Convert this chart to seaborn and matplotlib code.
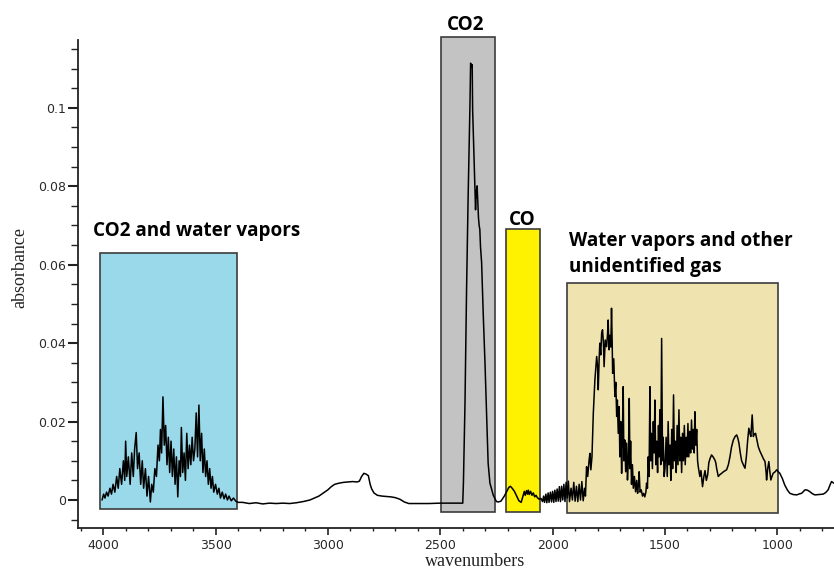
import numpy as np
import pandas as pd
import matplotlib
matplotlib.use("Agg")
import matplotlib.pyplot as plt
import seaborn as sns
from matplotlib.patches import Rectangle
from matplotlib.ticker import MultipleLocator, FuncFormatter

# ---------------- data (wavenumber cm-1, absorbance) ----------------
seg_co2_water = [
    (4005, 0.000), (3998, 0.0015), (3992, 0.0005), (3985, 0.002), (3978, 0.001), (3970, 0.003),
    (3963, 0.0015), (3956, 0.004), (3948, 0.002), (3940, 0.006), (3933, 0.003), (3926, 0.008),
    (3918, 0.004), (3910, 0.010), (3904, 0.005), (3900, 0.0150), (3895, 0.006), (3888, 0.011),
    (3880, 0.004), (3873, 0.012), (3866, 0.006), (3860, 0.013), (3853, 0.0172), (3847, 0.008),
    (3840, 0.012), (3833, 0.004), (3826, 0.010), (3820, 0.003), (3812, 0.008), (3805, 0.001),
    (3798, 0.006), (3790, -0.0005), (3784, 0.004), (3777, 0.002), (3770, 0.008), (3763, 0.006),
    (3756, 0.014), (3750, 0.010), (3745, 0.018), (3740, 0.012), (3734, 0.0263), (3728, 0.014),
    (3722, 0.019), (3716, 0.009), (3710, 0.016), (3704, 0.007), (3698, 0.015), (3692, 0.006),
    (3686, 0.013), (3680, 0.004), (3674, 0.011), (3668, 0.0008), (3662, 0.010), (3656, 0.006),
    (3652, 0.0185), (3646, 0.007), (3640, 0.012), (3634, 0.005), (3628, 0.017), (3622, 0.008),
    (3616, 0.014), (3610, 0.009), (3604, 0.016), (3598, 0.010), (3592, 0.013), (3586, 0.0222),
    (3580, 0.011), (3574, 0.0242), (3568, 0.010), (3562, 0.017), (3556, 0.007), (3550, 0.013),
    (3544, 0.006), (3538, 0.010), (3532, 0.004), (3526, 0.008), (3520, 0.003), (3514, 0.006),
    (3508, 0.002), (3500, 0.004), (3492, 0.0015), (3485, 0.003), (3478, 0.0005), (3470, 0.002),
    (3462, 0.0003), (3455, 0.0015), (3447, 0.000), (3440, 0.001), (3430, -0.0002), (3420, 0.0005),
    (3410, -0.0003), (3400, -0.0006),
]
seg_baseline = [
    (3380, -0.0006), (3350, -0.0009), (3320, -0.0007), (3290, -0.0010), (3260, -0.0008),
    (3230, -0.0009), (3200, -0.0008), (3170, -0.0009), (3140, -0.0007), (3110, -0.0004),
    (3080, 0.0000), (3060, 0.0005), (3040, 0.0010), (3020, 0.0018), (3000, 0.0026),
    (2985, 0.0034), (2970, 0.0040), (2950, 0.0043), (2930, 0.0045), (2910, 0.0046),
    (2890, 0.0047), (2870, 0.0046), (2860, 0.0048), (2850, 0.0060), (2840, 0.0068),
    (2830, 0.0066), (2820, 0.0062), (2812, 0.0040), (2805, 0.0028), (2795, 0.0018),
    (2780, 0.0012), (2760, 0.0010), (2740, 0.0009), (2720, 0.0008), (2700, 0.0006),
    (2680, 0.0002), (2660, -0.0005), (2640, -0.0009), (2600, -0.0009), (2550, -0.0009),
    (2500, -0.0008), (2450, -0.0008),
]
seg_co2 = [
    (2400, -0.0008), (2397, 0.0043), (2390, 0.0247), (2383, 0.0536), (2376, 0.0774),
    (2368, 0.1003), (2365, 0.1114), (2361, 0.1105), (2358, 0.1110), (2356, 0.0995),
    (2350, 0.0876), (2346, 0.0801), (2343, 0.0740), (2340, 0.0790), (2338, 0.0770),
    (2336, 0.0801), (2333, 0.0760), (2330, 0.0720), (2327, 0.0700), (2324, 0.0690),
    (2321, 0.0646), (2316, 0.0605), (2309, 0.0477), (2301, 0.0349), (2294, 0.0222),
    (2287, 0.0094), (2279, 0.0043), (2264, 0.0012),
]
seg_co = [
    (2250, -0.0004), (2242, -0.0005), (2230, -0.0003), (2215, 0.0010), (2205, 0.0021),
    (2195, 0.0032), (2188, 0.0035), (2180, 0.0030), (2170, 0.0022), (2160, 0.0010),
    (2150, -0.0002), (2140, -0.0006), (2132, 0.0010), (2126, 0.0022), (2122, 0.0012),
    (2116, 0.0024), (2112, 0.0015), (2108, 0.0025), (2104, 0.0014), (2098, 0.0022),
    (2092, 0.0012), (2086, 0.0018), (2080, 0.0008), (2074, 0.0012), (2068, 0.0006),
    (2060, 0.0002), (2052, 0.0004),
]
seg_gap = [
    (2045, -0.0004), (2040, 0.0010), (2036, -0.0006), (2030, 0.0015), (2026, -0.0007),
    (2020, 0.0018), (2016, -0.0006), (2010, 0.0020), (2005, -0.0005), (2000, 0.0022),
    (1995, -0.0006), (1990, 0.0025), (1985, -0.0004), (1980, 0.0028), (1975, -0.0003),
    (1970, 0.0034), (1965, -0.0004), (1960, 0.0035), (1955, 0.0000), (1950, 0.0040),
    (1945, -0.0004), (1940, 0.0045),
]
seg_water_other = [
    (1935, 0.0005), (1930, 0.0048), (1925, -0.0004), (1918, 0.0030), (1912, 0.0000),
    (1906, 0.0045), (1900, -0.0003), (1894, 0.0035), (1888, -0.0004), (1882, 0.0040),
    (1876, 0.0000), (1870, 0.0047), (1864, -0.0002), (1858, 0.0030), (1854, 0.0010),
    (1849, 0.0085), (1844, 0.0060), (1838, 0.0100), (1834, 0.0119), (1830, 0.0077),
    (1825, 0.0110), (1819, 0.0221), (1812, 0.0306), (1804, 0.0366), (1800, 0.0340),
    (1797, 0.0281), (1793, 0.0360), (1790, 0.0400), (1786, 0.0370), (1782, 0.0425),
    (1778, 0.0434), (1774, 0.0400), (1771, 0.0340), (1766, 0.0408), (1760, 0.0391),
    (1756, 0.0420), (1753, 0.0459), (1749, 0.0383), (1745, 0.0420), (1741, 0.0390),
    (1738, 0.0489), (1735, 0.0400), (1733, 0.0323), (1728, 0.0360), (1723, 0.0264),
    (1719, 0.0300), (1715, 0.0213), (1712, 0.0255), (1708, 0.0170), (1704, 0.0238),
    (1701, 0.0110), (1697, 0.0200), (1693, 0.0068), (1690, 0.0150), (1686, 0.0289),
    (1683, 0.0100), (1679, 0.0153), (1675, 0.0072), (1671, 0.0145), (1667, 0.0051),
    (1663, 0.0100), (1659, 0.0259), (1656, 0.0080), (1653, 0.0150), (1649, 0.0040),
    (1645, 0.0090), (1641, 0.0030), (1636, 0.0060), (1631, 0.0021), (1626, 0.0050),
    (1622, 0.0017), (1618, 0.0040), (1615, 0.0072), (1611, 0.0020), (1606, 0.0026),
    (1600, 0.0010), (1595, 0.0017), (1590, 0.0008), (1585, 0.0020), (1582, 0.0043),
    (1578, 0.0030), (1575, 0.0110), (1571, 0.0060), (1567, 0.0289), (1564, 0.0100),
    (1560, 0.0170), (1556, 0.0080), (1552, 0.0200), (1548, 0.0120), (1545, 0.0255),
    (1541, 0.0090), (1537, 0.0150), (1533, 0.0070), (1529, 0.0190), (1526, 0.0110),
    (1523, 0.0230), (1519, 0.0090), (1515, 0.0412), (1511, 0.0100), (1508, 0.0160),
    (1504, 0.0060), (1500, 0.0080), (1495, 0.0160), (1490, 0.0060), (1486, 0.0200),
    (1482, 0.0090), (1478, 0.0140), (1474, 0.0050), (1470, 0.0180), (1466, 0.0080),
    (1462, 0.0268), (1458, 0.0100), (1454, 0.0150), (1450, 0.0070), (1446, 0.0190),
    (1442, 0.0090), (1438, 0.0230), (1434, 0.0100), (1430, 0.0160), (1426, 0.0070),
    (1422, 0.0170), (1418, 0.0100), (1414, 0.0190), (1410, 0.0090), (1406, 0.0160),
    (1402, 0.0110), (1398, 0.0195), (1394, 0.0110), (1390, 0.0175), (1386, 0.0120),
    (1382, 0.0204), (1378, 0.0130), (1374, 0.0180), (1370, 0.0120), (1367, 0.0225),
    (1363, 0.0140), (1359, 0.0180), (1355, 0.0100), (1352, 0.0085), (1345, 0.0060),
    (1340, 0.0075), (1333, 0.0034), (1327, 0.0060), (1322, 0.0075), (1316, 0.0050),
    (1310, 0.0065), (1305, 0.0095), (1300, 0.0105), (1293, 0.0115), (1286, 0.0110),
    (1278, 0.0102), (1274, 0.0095), (1270, 0.0080), (1263, 0.0060), (1255, 0.0065),
    (1248, 0.0068), (1240, 0.0072), (1226, 0.0077), (1218, 0.0090), (1211, 0.0110),
    (1204, 0.0135), (1196, 0.0153), (1188, 0.0162), (1181, 0.0166), (1176, 0.0158),
    (1171, 0.0145), (1165, 0.0120), (1159, 0.0100), (1150, 0.0088), (1144, 0.0081),
    (1138, 0.0110), (1132, 0.0153), (1127, 0.0183), (1122, 0.0170), (1118, 0.0162),
    (1112, 0.0217), (1107, 0.0162), (1102, 0.0168), (1097, 0.0170), (1090, 0.0150),
    (1085, 0.0136), (1078, 0.0125), (1070, 0.0115), (1062, 0.0105), (1055, 0.0098),
    (1050, 0.0070), (1048, 0.0051), (1043, 0.0080), (1038, 0.0098), (1033, 0.0070),
    (1029, 0.0051), (1024, 0.0060), (1019, 0.0068), (1010, 0.0072), (1003, 0.0077),
]
seg_tail = [
    (996, 0.0072), (989, 0.0068), (978, 0.0055), (967, 0.0038), (955, 0.0025), (944, 0.0017),
    (930, 0.0014), (914, 0.0013), (900, 0.0016), (892, 0.0017), (884, 0.0022), (877, 0.0026),
    (866, 0.0025), (855, 0.0021), (844, 0.0016), (833, 0.0013), (815, 0.0014), (796, 0.0015),
    (785, 0.0019), (774, 0.0026), (766, 0.0038), (759, 0.0047), (749, 0.0043),
]

region_labels = ["CO2 and water vapors", "CO2", "CO", "Water vapors and other\nunidentified gas"]
region_x = [(4015, 3405), (2498, 2258), (2209, 2055), (1935, 996)]
region_y = [(-0.0023, 0.0630), (-0.0031, 0.1180), (-0.0031, 0.0691), (-0.0032, 0.0554)]
region_colors = ["#99D9EA", "#C3C3C3", "#FFF200", "#EFE4B0"]

x_ticks = [4000, 3500, 3000, 2500, 2000, 1500, 1000]
y_ticks = [0, 0.02, 0.04, 0.06, 0.08, 0.1]

segments = [seg_co2_water, seg_baseline, seg_co2, seg_co, seg_gap, seg_water_other, seg_tail]
pts = [p for s in segments for p in s]
df = pd.DataFrame(pts, columns=["wavenumbers", "absorbance"])

# ---------------- figure ----------------
sns.set_style("ticks")
plt.rcParams["font.family"] = ["DejaVu Sans"]

fig = plt.figure(figsize=(8.34, 5.70), dpi=100)
ax = fig.add_axes([78 / 834, 42 / 570, (834 - 78) / 834, (528 - 40) / 570])

for (x0, x1), (y0, y1), c in zip(region_x, region_y, region_colors):
    ax.add_patch(Rectangle((x1, y0), x0 - x1, y1 - y0, facecolor=c, edgecolor="#3c3c3c",
                           linewidth=1.2, zorder=1, clip_on=False))

sns.lineplot(data=df, x="wavenumbers", y="absorbance", ax=ax, color="black", linewidth=1.1,
             sort=False, estimator=None, zorder=3)

ax.set_xlim(4112, 748)
ax.set_ylim(-0.00714, 0.1173)

ax.set_xticks(x_ticks)
ax.set_yticks(y_ticks)
ax.xaxis.set_minor_locator(MultipleLocator(100))
ax.yaxis.set_minor_locator(MultipleLocator(0.005))
ax.yaxis.set_major_formatter(FuncFormatter(lambda v, p: f"{v:g}"))

ax.tick_params(axis="x", which="major", direction="out", length=5, width=1.2, labelsize=9,
               labelcolor="#2a2a2a", color="#222222", pad=3)
ax.tick_params(axis="x", which="minor", direction="out", length=2.5, width=1.0, color="#222222")
ax.tick_params(axis="y", which="major", direction="out", length=7.5, width=1.5, labelsize=9,
               labelcolor="#2a2a2a", color="#222222", pad=1)
ax.tick_params(axis="y", which="minor", direction="out", length=5, width=1.0, color="#222222")

for s in ["top", "right"]:
    ax.spines[s].set_visible(False)
for s in ["left", "bottom"]:
    ax.spines[s].set_color("#222222")
    ax.spines[s].set_linewidth(1.3)

ax.set_xlabel("wavenumbers", family="Liberation Serif", fontsize=13, color="#222222")
ax.set_ylabel("absorbance", family="Liberation Serif", fontsize=13, color="#222222")
ax.xaxis.set_label_coords((475 - 78) / 756, (528 - 553) / 488)
ax.yaxis.set_label_coords((28 - 78) / 756, (528 - 268) / 488)

label_pos = [(4046, 0.0673, "left"), (2386, 0.1199, "center"), (2137, 0.0702, "center"),
             (1928, 0.0582, "left")]
for txt, (lx, ly, ha) in zip(region_labels, label_pos):
    ax.text(lx, ly, txt, ha=ha, va="baseline", family="Open Sans", fontweight="bold",
            fontsize=13.6, color="black", clip_on=False, linespacing=1.38, zorder=4)

fig.savefig("out.png", dpi=100)
